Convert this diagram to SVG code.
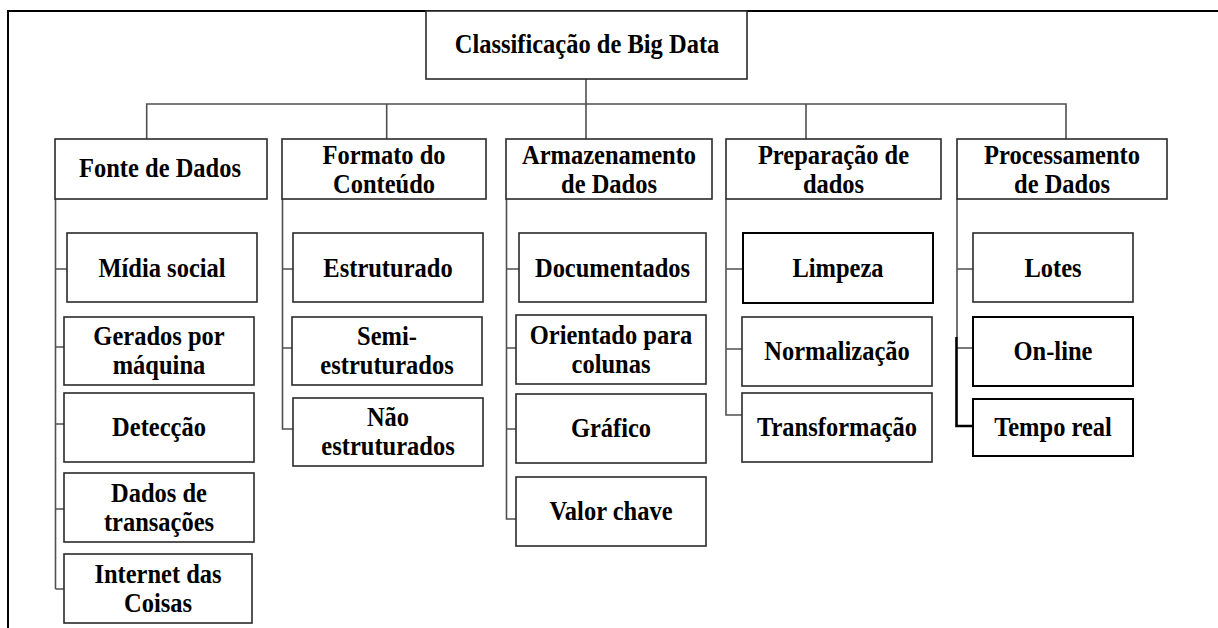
<svg xmlns="http://www.w3.org/2000/svg" width="1218" height="628" viewBox="0 0 1218 628">
<style>
.frame{fill:none;stroke:#000;stroke-width:2}
.box{fill:#fff;stroke:#2a2a2a;stroke-width:1.6}
.dark{stroke:#000;stroke-width:2}
.conn{fill:none;stroke:#505050;stroke-width:1.6}
.thick{fill:none;stroke:#000;stroke-width:2.6}
text{font-family:"Liberation Serif","Times New Roman",serif;font-weight:bold;font-size:24.5px;fill:#000;text-anchor:middle}
</style>
<rect width="1218" height="628" fill="#fff"/>
<path class="frame" d="M8,628 V11 H1218"/>
<g id="connectors">
<path class="conn" d="M586,79 V139 M146.7,139 V104 H1066 V139 M386.7,104 V139 M806,104 V139"/>
<path class="conn" d="M55.5,199 V589 M55.5,269 H67 M55.5,347 H64 M55.5,424 H64 M55.5,509 H64 M55.5,589 H64"/>
<path class="conn" d="M282.5,199 V429 H293 M282.5,269 H293 M282.5,348 H292"/>
<path class="conn" d="M506.5,199 V519 H516 M506.5,269 H519 M506.5,348 H516 M506.5,429 H516"/>
<path class="conn" d="M726,199 V415 H742 M726,269 H743 M726,349 H742"/>
<path class="conn" d="M957,199 V337 M957,269 H973 M957,348 H973"/>
<path class="thick" d="M956.5,337 V426 H973"/>
</g>
<g id="root"><rect class="box" x="426" y="11" width="321" height="68"/><text transform="translate(587,52.5) scale(1,1.15)">Classificação de Big Data</text></g>
<g id="fonte"><rect class="box" x="55" y="139" width="212" height="60"/><text transform="translate(160,177) scale(1,1.15)">Fonte de Dados</text></g>
<g id="formato"><rect class="box" x="282" y="139" width="204" height="60"/><text transform="translate(384,163.5) scale(1,1.15)">Formato do</text><text transform="translate(384,192.5) scale(1,1.15)">Conteúdo</text></g>
<g id="armazenamento"><rect class="box" x="506" y="139" width="206" height="60"/><text transform="translate(609,163.5) scale(1,1.15)">Armazenamento</text><text transform="translate(609,192.5) scale(1,1.15)">de Dados</text></g>
<g id="preparacao"><rect class="box" x="726" y="139" width="215" height="60"/><text transform="translate(833.5,163.5) scale(1,1.15)">Preparação de</text><text transform="translate(833.5,192.5) scale(1,1.15)">dados</text></g>
<g id="processamento"><rect class="box" x="957" y="139" width="210" height="60"/><text transform="translate(1062,163.5) scale(1,1.15)">Processamento</text><text transform="translate(1062,192.5) scale(1,1.15)">de Dados</text></g>
<g id="midia"><rect class="box" x="67" y="233" width="190" height="69"/><text transform="translate(162,276.5) scale(1,1.15)">Mídia social</text></g>
<g id="gerados"><rect class="box" x="64" y="317" width="190" height="68"/><text transform="translate(159,345) scale(1,1.15)">Gerados por</text><text transform="translate(159,374) scale(1,1.15)">máquina</text></g>
<g id="deteccao"><rect class="box" x="64" y="393" width="190" height="69"/><text transform="translate(159,436) scale(1,1.15)">Detecção</text></g>
<g id="transacoes"><rect class="box" x="64" y="473" width="190" height="69"/><text transform="translate(159,501.5) scale(1,1.15)">Dados de</text><text transform="translate(159,530.5) scale(1,1.15)">transações</text></g>
<g id="iot"><rect class="box" x="64" y="554" width="188" height="69"/><text transform="translate(158,583) scale(1,1.15)">Internet das</text><text transform="translate(158,612) scale(1,1.15)">Coisas</text></g>
<g id="estruturado"><rect class="box" x="293" y="233" width="190" height="69"/><text transform="translate(388,276.5) scale(1,1.15)">Estruturado</text></g>
<g id="semi"><rect class="box" x="292" y="317" width="190" height="68"/><text transform="translate(387,345) scale(1,1.15)">Semi-</text><text transform="translate(387,374) scale(1,1.15)">estruturados</text></g>
<g id="nao"><rect class="box" x="293" y="398" width="190" height="68"/><text transform="translate(388,426) scale(1,1.15)">Não</text><text transform="translate(388,455) scale(1,1.15)">estruturados</text></g>
<g id="documentados"><rect class="box" x="519" y="233" width="187" height="69"/><text transform="translate(612.5,276.5) scale(1,1.15)">Documentados</text></g>
<g id="orientado"><rect class="box" x="516" y="315" width="190" height="69"/><text transform="translate(611,343.5) scale(1,1.15)">Orientado para</text><text transform="translate(611,372.5) scale(1,1.15)">colunas</text></g>
<g id="grafico"><rect class="box" x="516" y="394" width="190" height="69"/><text transform="translate(611,437) scale(1,1.15)">Gráfico</text></g>
<g id="valor"><rect class="box" x="516" y="477" width="190" height="69"/><text transform="translate(611,520) scale(1,1.15)">Valor chave</text></g>
<g id="limpeza"><rect class="box dark" x="743" y="233" width="190" height="70"/><text transform="translate(838,276.5) scale(1,1.15)">Limpeza</text></g>
<g id="normalizacao"><rect class="box" x="742" y="317" width="190" height="69"/><text transform="translate(837,360) scale(1,1.15)">Normalização</text></g>
<g id="transformacao"><rect class="box" x="742" y="393" width="190" height="69"/><text transform="translate(837,436) scale(1,1.15)">Transformação</text></g>
<g id="lotes"><rect class="box" x="973" y="233" width="160" height="69"/><text transform="translate(1053,276.5) scale(1,1.15)">Lotes</text></g>
<g id="online"><rect class="box dark" x="973" y="317" width="160" height="69"/><text transform="translate(1053,360) scale(1,1.15)">On-line</text></g>
<g id="temporeal"><rect class="box dark" x="973" y="399" width="160" height="57"/><text transform="translate(1053,436) scale(1,1.15)">Tempo real</text></g>
</svg>
